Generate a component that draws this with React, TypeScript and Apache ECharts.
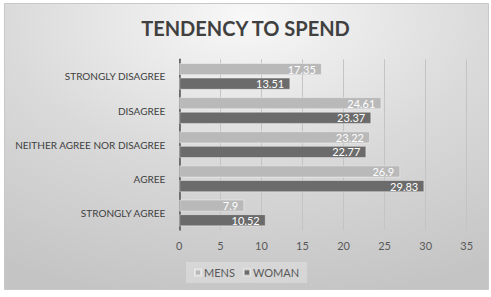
import React, { useEffect, useRef } from "react";
import * as echarts from "echarts";

const categories = [
  "STRONGLY DISAGREE",
  "DISAGREE",
  "NEITHER AGREE NOR DISAGREE",
  "AGREE",
  "STRONGLY AGREE",
];
const mensValues = [17.35, 24.61, 23.22, 26.9, 7.9];
const womanValues = [13.51, 23.37, 22.77, 29.83, 10.52];
const seriesNames = ["MENS", "WOMAN"];
const titleText = "TENDENCY TO SPEND";

const FONT = "Lato, 'Open Sans', sans-serif";

export default function App() {
  const ref = useRef<HTMLDivElement>(null);
  useEffect(() => {
    if (!ref.current) return;
    const chart = echarts.init(ref.current, undefined, { renderer: "svg" });
    const bg = new echarts.graphic.RadialGradient(0.5, 0.05, 1.0, [
      { offset: 0, color: "#f8f8f8" },
      { offset: 0.5, color: "#dadada" },
      { offset: 1, color: "#c4c4c4" },
    ]);
    chart.setOption({
      animation: false,
      backgroundColor: "#ffffff",
      graphic: [
        {
          type: "rect",
          z: -10,
          silent: true,
          shape: { x: 4.5, y: 3.5, width: 484, height: 286 },
          style: { fill: bg, stroke: "#c8c8c8", lineWidth: 1 },
        },
      ],
      title: {
        text: titleText,
        left: "center",
        top: 13,
        textStyle: {
          fontFamily: FONT,
          fontWeight: "bold",
          fontSize: 20,
          color: "#404040",
        },
      },
      legend: {
        data: seriesNames,
        left: 186,
        top: 262,
        itemWidth: 6,
        itemHeight: 6,
        itemGap: 8,
        padding: [5, 8, 5, 8],
        backgroundColor: "rgba(255,255,255,0.25)",
        icon: "rect",
        textStyle: { fontFamily: FONT, fontSize: 11, color: "#595959", padding: [0, 0, 0, -2] },
      },
      grid: { left: 179.3, right: 24.3, top: 59.3, bottom: 67, containLabel: false },
      xAxis: {
        type: "value",
        min: 0,
        max: 35,
        interval: 5,
        axisLine: { show: false },
        axisTick: { show: false },
        axisLabel: { fontFamily: FONT, fontSize: 11, color: "#595959", margin: 10 },
        splitLine: { lineStyle: { color: "#c4c4c4", width: 1 } },
      },
      yAxis: {
        type: "category",
        data: categories,
        inverse: true,
        axisLine: { show: true, lineStyle: { color: "#505050", width: 1.5 } },
        axisTick: { show: false },
        axisLabel: { fontFamily: FONT, fontSize: 10, color: "#404040", margin: 14 },
      },
      series: [
        {
          name: seriesNames[0],
          type: "bar",
          data: mensValues,
          barWidth: 12,
          barGap: "22%",
          itemStyle: { color: "#b9b9b9", borderColor: "rgba(255,255,255,0.5)", borderWidth: 0.8 },
          label: {
            show: true,
            position: "insideRight",
            color: "#ffffff",
            fontFamily: FONT,
            fontSize: 11,
            offset: [-1, 0],
          },
        },
        {
          name: seriesNames[1],
          type: "bar",
          data: womanValues,
          barWidth: 12,
          itemStyle: { color: "#6b6b6b", borderColor: "rgba(255,255,255,0.5)", borderWidth: 0.8 },
          label: {
            show: true,
            position: "insideRight",
            color: "#ffffff",
            fontFamily: FONT,
            fontSize: 11,
            offset: [-1, 0],
          },
        },
      ],
    });
    return () => chart.dispose();
  }, []);
  return (
    <div
      ref={ref}
      style={{ position: "fixed", left: 0, top: 0, width: 491, height: 297 }}
    />
  );
}
